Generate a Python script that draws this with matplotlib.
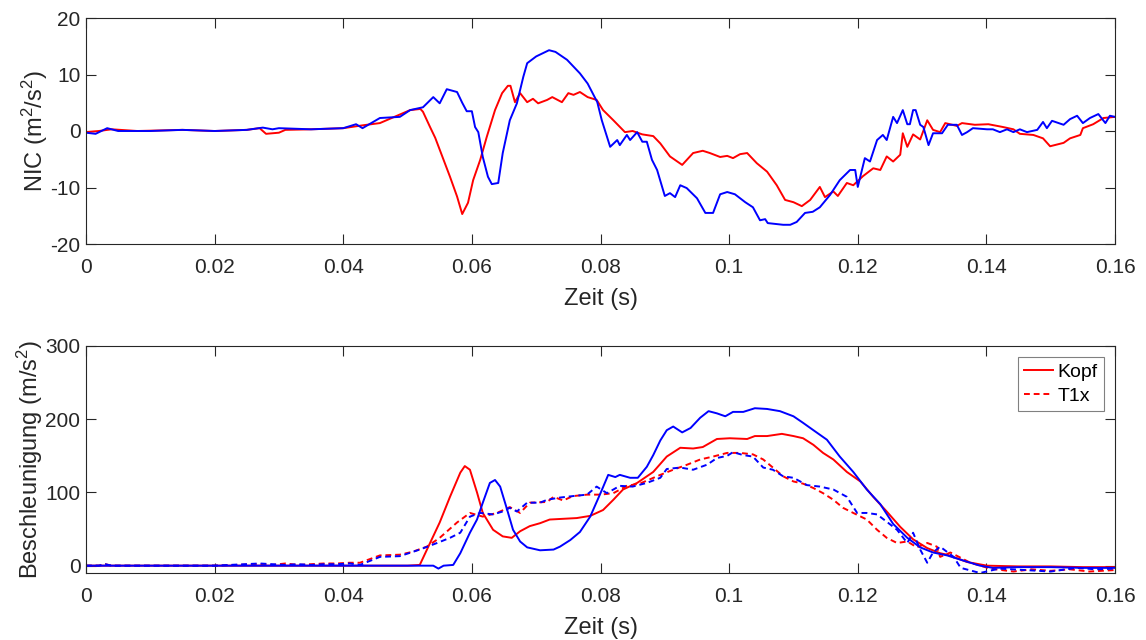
import matplotlib
matplotlib.use("Agg")
import matplotlib.pyplot as plt

plt.rcParams['font.family'] = ['Liberation Sans', 'DejaVu Sans']
plt.rcParams['mathtext.fontset'] = 'custom'
plt.rcParams['mathtext.rm'] = 'Liberation Sans'
plt.rcParams['mathtext.it'] = 'Liberation Sans:italic'
plt.rcParams['axes.unicode_minus'] = False

# ---- NIC (top panel) ----
t_nic_red = [0, 0.002, 0.004, 0.008, 0.015, 0.02, 0.025, 0.027, 0.028, 0.03, 0.031, 0.035, 0.04,
             0.043, 0.0457, 0.0504, 0.052, 0.0524, 0.0535, 0.0543, 0.0553, 0.0566, 0.0577, 0.0585,
             0.0594, 0.0602, 0.0613, 0.0623, 0.0636, 0.0647, 0.0656, 0.066, 0.0667, 0.0675, 0.0686,
             0.0695, 0.0703, 0.0717, 0.0725, 0.074, 0.075, 0.0758, 0.0768, 0.078, 0.0794, 0.0804,
             0.082, 0.0838, 0.085, 0.0865, 0.0882, 0.0893, 0.0908, 0.0927, 0.0944, 0.0959, 0.097,
             0.0986, 0.0997, 0.1006, 0.1017, 0.1028, 0.1043, 0.1059, 0.1074, 0.1087, 0.11, 0.1113,
             0.1126, 0.1141, 0.1149, 0.1162, 0.1169, 0.1183, 0.1193, 0.1208, 0.1224, 0.1235,
             0.1245, 0.1255, 0.1266, 0.127, 0.1277, 0.1286, 0.1297, 0.1308, 0.1317, 0.1328,
             0.1336, 0.1354, 0.1362, 0.1382, 0.1403, 0.1426, 0.1442, 0.1452, 0.1473, 0.1488,
             0.1499, 0.152, 0.153, 0.1546, 0.155, 0.1566, 0.1582, 0.16]
v_nic_red = [-0.2, 0, 0.3, 0, 0.2, 0, 0.2, 0.5, -0.5, -0.3, 0.2, 0.3, 0.5,
             1.0, 1.4, 3.7, 3.9, 3.4, 0.7, -1.2, -4.2, -8.1, -11.6, -14.7,
             -12.7, -8.7, -5.1, -1.1, 3.7, 6.7, 8.0, 8.0, 5.1, 6.7, 5.1,
             5.7, 4.9, 5.5, 6.0, 5.1, 6.7, 6.4, 6.9, 6.0, 5.5, 3.7,
             1.9, -0.2, 0, -0.6, -0.9, -2.2, -4.5, -6.0, -3.9, -3.5, -3.9,
             -4.6, -4.4, -4.8, -4.1, -3.9, -5.7, -7.2, -9.6, -12.2, -12.6, -13.3,
             -12.2, -9.9, -11.7, -10.7, -11.5, -9.2, -9.6, -8.0, -6.6, -6.9,
             -4.5, -5.4, -4.2, -0.4, -2.8, -0.6, -1.5, 1.9, 0.2, -0.2,
             1.4, 0.9, 1.4, 1.1, 1.2, 0.7, 0.3, -0.5, -0.7, -1.3,
             -2.7, -2.1, -1.3, -0.7, 0.5, 1.2, 2.3, 2.5]

t_nic_blue = [0, 0.0015, 0.0033, 0.005, 0.01, 0.015, 0.02, 0.025, 0.0275, 0.029, 0.03, 0.035,
              0.04, 0.042, 0.043, 0.0457, 0.0488, 0.0504, 0.0524, 0.054, 0.055, 0.0561, 0.0577,
              0.0585, 0.0592, 0.06, 0.0605, 0.061, 0.0617, 0.0625, 0.0631, 0.0641, 0.0648, 0.0659,
              0.067, 0.068, 0.0686, 0.07, 0.072, 0.073, 0.0748, 0.0768, 0.078, 0.0795, 0.0802,
              0.0815, 0.0826, 0.083, 0.0841, 0.0846, 0.0857, 0.0865, 0.0872, 0.088, 0.0888, 0.09,
              0.0908, 0.0916, 0.0924, 0.0934, 0.095, 0.0963, 0.0975, 0.0986, 0.0997, 0.1009,
              0.1025, 0.1037, 0.1048, 0.1056, 0.106, 0.1084, 0.1095, 0.1105, 0.1118, 0.113,
              0.1141, 0.1157, 0.1172, 0.1188, 0.1196, 0.12, 0.1211, 0.1219, 0.123, 0.1239,
              0.1245, 0.1255, 0.1261, 0.127, 0.1277, 0.1281, 0.1286, 0.129, 0.1297, 0.1302,
              0.131, 0.1317, 0.1331, 0.134, 0.1354, 0.1362, 0.137, 0.1379, 0.1401, 0.141,
              0.1421, 0.1432, 0.1442, 0.1452, 0.1463, 0.1479, 0.1488, 0.1494, 0.1502, 0.152,
              0.153, 0.1541, 0.155, 0.1561, 0.1574, 0.1585, 0.1592, 0.16]
v_nic_blue = [-0.3, -0.5, 0.5, 0, 0, 0.2, 0, 0.2, 0.6, 0.3, 0.5, 0.3,
              0.5, 1.2, 0.5, 2.3, 2.5, 3.7, 4.2, 6.0, 4.9, 7.4, 6.9,
              5.0, 3.5, 3.5, 0.7, -0.2, -4.6, -8.1, -9.4, -9.2, -3.9, 1.9,
              4.9, 9.6, 12.0, 13.2, 14.3, 14.0, 12.6, 10.2, 8.4, 5.1, 1.9,
              -2.8, -1.6, -2.5, -0.7, -1.6, -0.2, -1.9, -1.9, -5.1, -6.9, -11.5,
              -11.0, -11.7, -9.6, -10.1, -11.9, -14.5, -14.5, -11.2, -10.8, -11.2,
              -12.6, -13.5, -15.8, -15.6, -16.3, -16.6, -16.6, -16.1, -14.5, -14.3,
              -13.5, -11.3, -8.7, -6.9, -6.9, -9.9, -4.8, -5.4, -1.6, -0.7,
              -1.6, 2.5, 1.4, 3.7, 1.2, 1.2, 3.7, 3.7, 1.1, 0.7,
              -2.5, -0.4, -0.4, 1.1, 1.1, -0.7, -0.2, 0.5, 0.3, 0.3,
              -0.2, 0.3, -0.2, 0.3, -0.2, 0.2, 1.6, 0.5, 1.8, 1.1,
              2.1, 2.7, 1.4, 2.3, 3.0, 1.4, 2.7, 2.5]

# ---- Beschleunigung (bottom panel) ----
t_kopf_red = [0, 0.01, 0.02, 0.03, 0.04, 0.05, 0.0519, 0.0535, 0.055, 0.0566, 0.0582, 0.0589,
              0.0597, 0.0608, 0.0617, 0.0633, 0.0648, 0.0662, 0.0675, 0.069, 0.0706, 0.0721,
              0.0742, 0.0763, 0.0784, 0.0804, 0.082, 0.0835, 0.0857, 0.0882, 0.0903, 0.0924,
              0.0944, 0.0959, 0.0981, 0.1001, 0.1028, 0.104, 0.1059, 0.1082, 0.11, 0.1115,
              0.1131, 0.1146, 0.1162, 0.1183, 0.1204, 0.1224, 0.1245, 0.1266, 0.1286, 0.1308,
              0.1328, 0.1339, 0.137, 0.1401, 0.145, 0.15, 0.155, 0.16]
v_kopf_red = [0, 0, 0, 0, 0, 0, 1, 31, 59, 94, 127, 136,
              131, 100, 72, 49, 40, 38, 47, 54, 58, 63,
              64, 65, 68, 76, 90, 104, 113, 128, 149, 161,
              160, 162, 173, 174, 173, 177, 177, 180, 177, 174,
              165, 154, 145, 128, 115, 94, 74, 53, 36, 24,
              17, 15, 5, 0, -1, -1, -2, -2]

t_kopf_blue = [0, 0.01, 0.02, 0.03, 0.04, 0.05, 0.054, 0.0548, 0.0556, 0.0571, 0.0582, 0.0597,
               0.0608, 0.0617, 0.0628, 0.0636, 0.0644, 0.0655, 0.0664, 0.0675, 0.0686, 0.0706,
               0.0727, 0.0737, 0.0753, 0.0768, 0.0784, 0.08, 0.0812, 0.0823, 0.083, 0.0846,
               0.0858, 0.0872, 0.0882, 0.0893, 0.0903, 0.0913, 0.0927, 0.094, 0.0955, 0.0968,
               0.0981, 0.0994, 0.1006, 0.1022, 0.104, 0.1059, 0.1079, 0.11, 0.1115, 0.1131,
               0.1152, 0.1172, 0.1193, 0.1214, 0.1235, 0.1255, 0.1277, 0.1297, 0.1317, 0.1339,
               0.1364, 0.139, 0.141, 0.145, 0.15, 0.155, 0.16]
v_kopf_blue = [0, 0, 0, 0, 0, 0, 0, -4, 0, 1, 17, 45,
               63, 86, 113, 117, 108, 76, 49, 33, 25, 21,
               22, 26, 35, 46, 67, 99, 124, 121, 124, 120,
               120, 135, 151, 171, 185, 190, 182, 188, 202, 211,
               208, 204, 210, 210, 215, 214, 211, 204, 195, 185,
               172, 149, 128, 104, 84, 57, 38, 25, 18, 14,
               7, 0, -3, -2, -2, -3, -3]

t_t1x_red = [0, 0.002, 0.003, 0.004, 0.01, 0.02, 0.027, 0.029, 0.031, 0.033, 0.035, 0.037,
             0.039, 0.041, 0.0426, 0.0457, 0.0488, 0.0508, 0.053, 0.055, 0.0577, 0.0597,
             0.0617, 0.0639, 0.0659, 0.0675, 0.069, 0.0717, 0.0727, 0.0742, 0.0757, 0.0779,
             0.08, 0.082, 0.0841, 0.0861, 0.0877, 0.0893, 0.0913, 0.0935, 0.0955, 0.0975,
             0.0997, 0.1017, 0.1037, 0.1053, 0.1068, 0.1084, 0.11, 0.1115, 0.1131, 0.1146,
             0.1162, 0.1177, 0.1193, 0.1214, 0.123, 0.1245, 0.1261, 0.1277, 0.1292, 0.1308,
             0.1323, 0.1328, 0.1344, 0.1375, 0.1406, 0.1442, 0.147, 0.15, 0.153, 0.156, 0.16]
v_t1x_red = [0, 0, 2, 0, 0, 0, 2, 1, 3, 1, 2, 3,
             3, 4, 4, 14, 15, 19, 26, 38, 59, 72,
             67, 72, 80, 72, 86, 87, 94, 89, 95, 97,
             97, 99, 109, 112, 118, 124, 131, 138, 145, 149,
             154, 154, 152, 145, 134, 122, 115, 112, 106, 99,
             90, 79, 72, 63, 49, 38, 31, 33, 25, 31,
             26, 12, 18, 4, -4, -8, -5, -7, -5, -8, -6]

t_t1x_blue = [0, 0.002, 0.003, 0.004, 0.01, 0.02, 0.027, 0.029, 0.031, 0.033, 0.035, 0.037,
              0.039, 0.041, 0.0426, 0.0457, 0.0488, 0.0519, 0.0546, 0.0566, 0.0582, 0.0597,
              0.0613, 0.0633, 0.0648, 0.0659, 0.067, 0.0686, 0.0706, 0.0717, 0.0737, 0.0757,
              0.0779, 0.0794, 0.081, 0.083, 0.085, 0.0872, 0.0893, 0.0903, 0.0924, 0.0944,
              0.0966, 0.0981, 0.0997, 0.1006, 0.1022, 0.1037, 0.1053, 0.1068, 0.1084, 0.11,
              0.1121, 0.1141, 0.1162, 0.1183, 0.1199, 0.1214, 0.123, 0.1245, 0.1261, 0.1277,
              0.1286, 0.1297, 0.1308, 0.1317, 0.1328, 0.1349, 0.136, 0.139, 0.142, 0.146,
              0.15, 0.154, 0.157, 0.16]
v_t1x_blue = [0, 0, 2, 0, 0, 0, 3, 2, 1, 2, 1, 2,
              2, 3, 1, 12, 13, 22, 31, 38, 45, 67,
              72, 70, 74, 79, 74, 86, 86, 90, 93, 95,
              97, 108, 99, 109, 108, 113, 120, 132, 134, 131,
              138, 147, 150, 155, 151, 149, 134, 131, 122, 120,
              110, 108, 104, 94, 72, 72, 70, 60, 49, 31,
              45, 22, 4, 18, 26, 12, -3, -10, -4, -6,
              -8, -3, -5, -4]

fig = plt.figure(figsize=(11.46, 6.40), dpi=100)
ax1 = fig.add_axes([0.0750, 0.61875, 0.8980, 0.353125])
ax2 = fig.add_axes([0.0750, 0.1047, 0.8980, 0.3547])

lw = 1.4
ax1.plot(t_nic_red, v_nic_red, color='#ff0000', lw=lw)
ax1.plot(t_nic_blue, v_nic_blue, color='#0000ff', lw=lw)

ax2.plot(t_kopf_red, v_kopf_red, color='#ff0000', lw=lw, label='Kopf')
ax2.plot(t_t1x_red, v_t1x_red, color='#ff0000', lw=lw, ls=(0, (3, 2)), label='T1x')
ax2.plot(t_kopf_blue, v_kopf_blue, color='#0000ff', lw=lw)
ax2.plot(t_t1x_blue, v_t1x_blue, color='#0000ff', lw=lw, ls=(0, (3, 2)))

xticks = [0, 0.02, 0.04, 0.06, 0.08, 0.1, 0.12, 0.14, 0.16]
xticklabels = ['0', '0.02', '0.04', '0.06', '0.08', '0.1', '0.12', '0.14', '0.16']

tick_fs = 15
label_fs = 17
for ax in (ax1, ax2):
    ax.set_xlim(0, 0.16)
    ax.set_xticks(xticks)
    ax.set_xticklabels(xticklabels)
    ax.tick_params(direction='in', length=7, width=0.8, top=True, right=True,
                   labelsize=tick_fs, labelcolor='#262626', color='#262626')
    ax.tick_params(axis='x', pad=10)
    ax.tick_params(axis='y', pad=4)
    for s in ax.spines.values():
        s.set_linewidth(0.8)
        s.set_color('#262626')
    ax.set_xlabel('Zeit (s)', fontsize=label_fs, color='#262626', labelpad=8)

ax1.set_ylim(-20, 20)
ax1.set_yticks([-20, -10, 0, 10, 20])
ax1.set_ylabel('NIC (m$^2$/s$^2$)', fontsize=label_fs, color='#262626', labelpad=0)

ax2.set_ylim(-10, 300)
ax2.set_yticks([0, 100, 200, 300])
ax2.set_ylabel('Beschleunigung (m/s$^2$)', fontsize=label_fs, color='#262626', labelpad=0)

leg = ax2.legend(loc='upper right', fontsize=14, fancybox=False, framealpha=1,
                 edgecolor='#808080', handlelength=1.45, borderaxespad=0.55,
                 handletextpad=0.25, borderpad=0.35, labelspacing=0.3)
leg.get_frame().set_linewidth(0.8)

fig.savefig('out.png', dpi=100)
